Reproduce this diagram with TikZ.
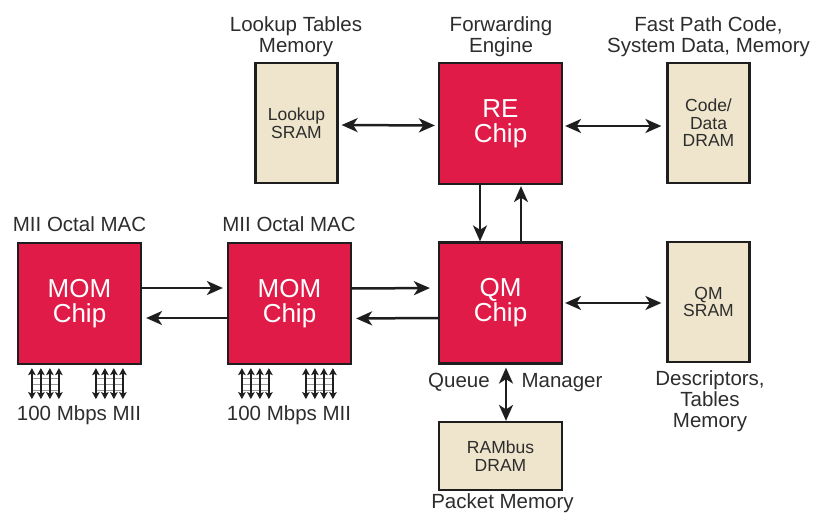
\documentclass[tikz,border=0pt]{standalone}
\usepackage{fontspec}
\setmainfont{Liberation Sans}
\usetikzlibrary{arrows.meta,calc}
\definecolor{chipred}{RGB}{225,27,72}
\definecolor{membeige}{RGB}{239,229,204}
\definecolor{inktext}{RGB}{45,45,45}
\definecolor{boxline}{RGB}{30,30,30}
\begin{document}
\begin{tikzpicture}[x=1pt,y=-1pt,
  chip/.style={draw=boxline, line width=2.2pt, fill=chipred, text=white,
    font=\fontsize{26}{25}\selectfont, align=center, inner sep=0pt,
    minimum width=123pt, minimum height=121pt},
  mem/.style={draw=boxline, line width=2.2pt, fill=membeige, text=inktext,
    font=\fontsize{17.5}{17.5}\selectfont, align=center, inner sep=0pt,
    minimum width=82pt, minimum height=120pt},
  lbl/.style={font=\fontsize{20.5}{21}\selectfont, align=center,
    inner sep=0pt, text=inktext, anchor=base},
  bigtip/.tip={Stealth[length=16pt,width=14pt,inset=4.5pt]},
  link/.style={line width=2.5pt, draw=boxline, -bigtip},
  dlink/.style={line width=2.5pt, draw=boxline, bigtip-bigtip},
  smalltip/.tip={Stealth[length=7pt,width=7.5pt,inset=1.5pt]},
  miiline/.style={line width=1.6pt, draw=boxline, smalltip-smalltip},
  rung/.style={line width=1.1pt, draw=black!40},
]
\useasboundingbox (0,0) rectangle (814,513);

% chips
\node[chip] (mom1) at (79.5,303.5) {MOM\\Chip};
\node[chip] (mom2) at (289.5,303.5) {MOM\\Chip};
\node[chip] (qm)   at (500.5,303) {QM\\Chip};
\node[chip] (re)   at (500.5,123.5) {RE\\Chip};

% memories
\node[mem] (lookup) at (296.5,123) {Lookup\\SRAM};
\node[mem] (code)   at (708.5,123) {Code/\\Data\\DRAM};
\node[mem] (qmsram) at (708.5,302) {QM\\SRAM};
\node[mem, minimum width=123pt, minimum height=68pt] (rambus) at (500.5,456) {RAMbus\\DRAM};

% captions
\node[lbl] (capLookup) at (296,52.5) {Lookup Tables\\Memory};
\node[lbl] (capFwd)    at (501,53) {Forwarding\\Engine};
\node[lbl] (capFast)   at (708.5,52.5) {Fast Path Code,\\System Data, Memory};
\node[lbl] (capMac1)   at (79.5,232) {MII Octal MAC};
\node[lbl] (capMac2)   at (289,232) {MII Octal MAC};
\node[lbl] (capMii1)   at (79,420) {100 Mbps MII};
\node[lbl] (capMii2)   at (289,420) {100 Mbps MII};
\node[lbl] (capQueue)  at (459,387) {Queue};
\node[lbl] (capMgr)    at (562,387) {Manager};
\node[lbl] (capDesc)   at (710,427) {Descriptors,\\Tables\\Memory};
\node[lbl] (capPkt)    at (502.5,508) {Packet Memory};

% connections between chips and memories
\draw[dlink, shorten <=3pt, shorten >=3pt] ([yshift=-2pt]lookup.east) -- ([yshift=-2pt]re.west);
\draw[dlink, shorten <=2pt, shorten >=5pt] ([yshift=-2.5pt]re.east) -- ([yshift=-2.5pt]re.east -| code.west);
\draw[link] ([xshift=-20.5pt]re.south) -- ([xshift=-20.5pt]qm.north);
\draw[link, shorten >=1pt] ([xshift=20.5pt]qm.north) -- ([xshift=20.5pt]re.south);
\draw[dlink, shorten <=2pt, shorten >=5pt] (qm.east) -- (qm.east -| qmsram.west);
\draw[dlink, shorten <=3pt] ([xshift=5.5pt]qm.south) -- ([xshift=5.5pt]rambus.north);

% MAC to MAC to queue manager
\draw[link, shorten >=4pt] ([yshift=15.5pt]mom1.east) -- ([yshift=15.5pt]mom2.west);
\draw[link, shorten >=4pt] ([yshift=-14.5pt]mom2.west) -- ([yshift=-14.5pt]mom1.east);
\draw[link, shorten >=8pt] ([yshift=15pt]mom2.east) -- ([yshift=15pt]qm.west);
\draw[link, shorten >=4pt] ([yshift=-15pt]qm.west) -- ([yshift=-15pt]mom2.east);

% MII port ladders under each MAC
\foreach \b in {mom1,mom2}{
  \foreach \g in {15,79}{
    \foreach \r in {13,19,25}
      \draw[rung] ($(\b.south west)+(\g,\r)$) -- ($(\b.south west)+(\g+27,\r)$);
    \foreach \k in {0,1,2,3}
      \draw[miiline] ($(\b.south west)+(\g+9*\k,3)$) -- ($(\b.south west)+(\g+9*\k,34)$);
  }
}
\end{tikzpicture}
\end{document}
